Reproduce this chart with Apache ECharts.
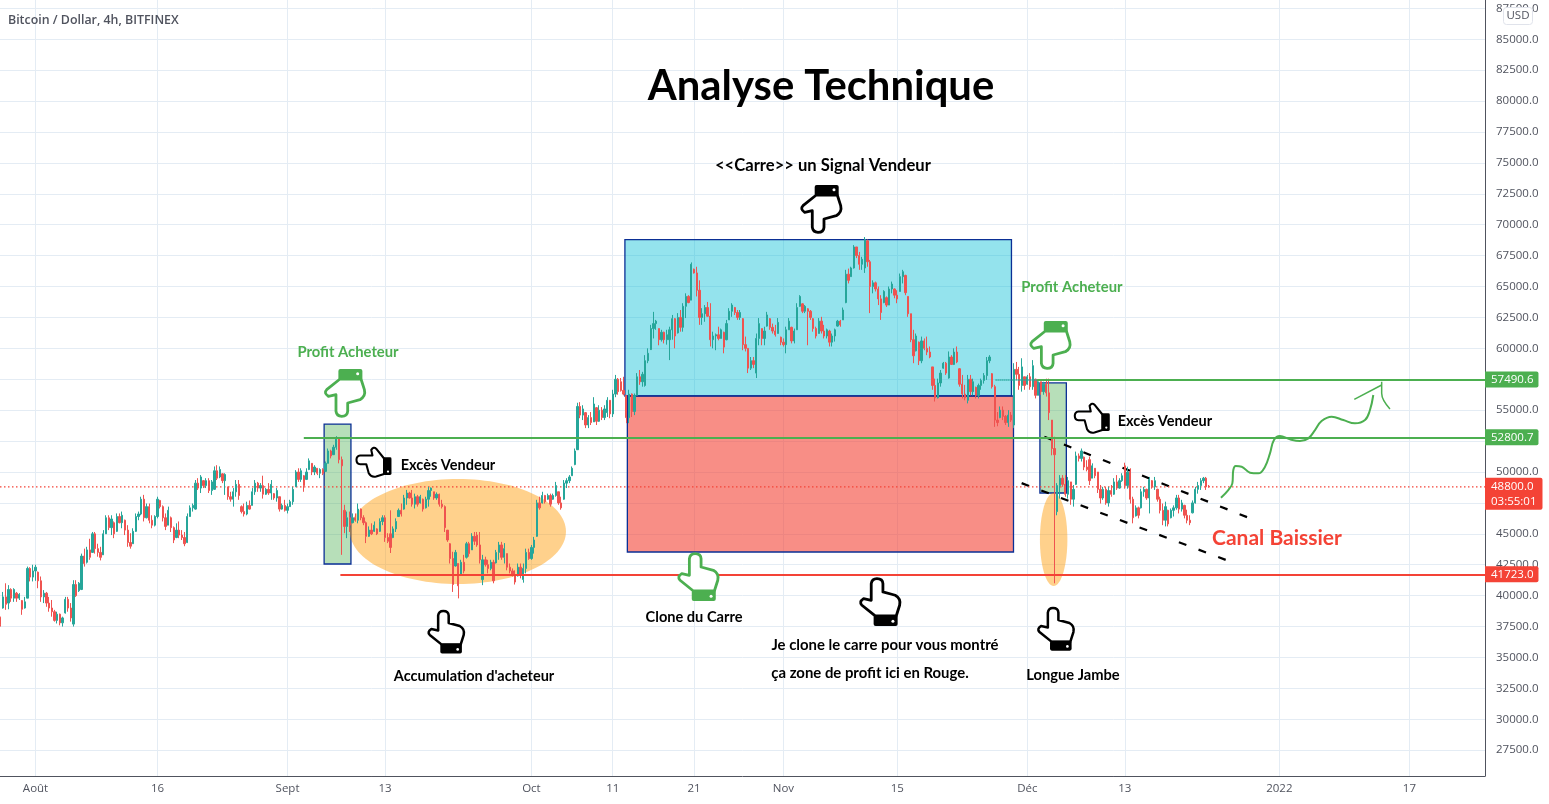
<!DOCTYPE html>
<html>
<head>
<meta charset="utf-8">
<title>Bitcoin / Dollar, 4h</title>
<script src="https://cdn.jsdelivr.net/npm/echarts@6/dist/echarts.min.js"></script>
<style>
  html, body { margin: 0; padding: 0; background: #fff; }
  #chart { width: 1549px; height: 804px; }
</style>
</head>
<body>
<div id="chart"></div>
<script>
// candles, one every 8h: [open, close, low, high]
const candlesJul = [
  [38250,37700,37500,38300],[39000,39900,38950,40300],[39900,39300,38850,41000],[39400,40500,38900,40850],[40500,39800,39500,40600],
  [39800,40500,39500,40600],[40200,39800,39500,40300],[39800,40100,39650,40200],[39600,38900,38450,39650],[39000,39500,38950,39900],
  [39800,42200,39800,42350],[42200,41500,41150,42300],[41500,42000,41150,42500]
];
const candlesAug = [
  [42000,42300,41200,42500],[41900,41200,40600,41950],[41200,39900,39500,41550],[39900,40200,39400,40450],[40200,39400,39100,40300],
  [39400,39000,38700,39900],[39000,38700,38300,39650],[38700,38000,37900,38850],[38000,38500,37750,38700],[38500,37800,37600,38550],
  [37800,38200,37500,38300],[38600,39700,38550,39900],[39700,39000,38700,39900],[39000,38200,37900,39400],[37700,40900,37500,41250],
  [40900,40000,39900,41250],[40400,41000,40300,41100],[40500,43200,40450,43400],[43200,42600,42350,43800],[42700,43700,42600,43950],
  [43700,43100,42900,44600],[43500,45000,43450,45150],[45000,43800,43400,45150],[43800,43500,43150,44200],[43500,43100,42850,43950],
  [43300,45000,43300,45300],[45000,46300,45000,46500],[46300,45500,45300,46500],[45500,46200,44900,46500],[45900,45000,44650,46000],
  [45200,46400,45150,46650],[46400,45900,45850,46650],[45900,46500,45450,46800],[46100,45300,44900,46150],[45300,44300,43950,45700],
  [44300,44000,43800,45050],[44200,45200,44200,45450],[45200,46400,45150,46650],[46400,46600,46100,46800],[46600,47800,46500,48000],
  [47800,46300,46000,48150],[46300,47200,46250,47450],[47200,46100,45850,47450],[46100,45700,45450,46500],[45700,46400,45600,46500],
  [46400,47800,46250,48000],[47700,47200,47050,47750],[47200,46300,46000,47300],[46300,45600,45300,46650],[45700,46900,45700,47200],
  [46300,45500,45150,46400],[45500,44500,44250,45600],[44700,45300,44650,45850],[45300,44900,44650,46000],[44900,44700,44500,45300],
  [44700,44200,44000,45150],[44300,46400,44250,46650],[46400,47100,46400,47300],[47100,47300,46800,47450],[47000,49100,46950,49350],
  [49100,48700,48550,49500],[48700,49600,48300,49750],[49300,48900,48700,49350],[48900,49300,48700,49500],[49300,48500,48300,49500],
  [48500,49200,48150,49350],[48600,50100,48550,50450],[50100,49500,49350,50550],[49600,50200,49500,50450],[49850,49300,49100,49900],
  [49300,49800,48150,49900],[48800,48000,47750,48800],[48000,47800,47600,48400],[47800,48400,47200,48700],[48400,49000,48000,49350],
  [49000,48100,47750,49350],[47200,46800,46650,47300],[46800,46600,46400,47450],[46600,47300,46500,47600],[47300,47000,46950,47700],
  [47300,48400,47300,48700],[48400,49100,48150,49350],[49100,48700,48400,49200],[48700,48900,48400,49100],[48900,48200,47850,49700],
  [48200,48600,48150,48700],[48600,48300,48150,49100],[48300,49000,47750,49350],[48250,47900,47750,48300],[47900,48500,47600,48700],
  [48000,47000,46800,48000],[47000,47300,46950,47450],[47300,46900,46800,47750]
];
const candlesSep = [
  [46900,47200,46650,47450],[47200,47600,47200,47750],[47600,48600,47350,48800],[48800,50000,48800,50150],[50000,49400,49200,50300],
  [49400,50100,49200,50300],[49700,48900,48400,49750],[49400,50000,49350,50300],[50200,50900,50150,51100],[50700,50000,49750,50700],
  [50000,50400,49750,50550],[50300,49900,49750,50300],[49900,50200,49500,50300],[50200,49900,49750,50300],[50050,50700,50050,50850],
  [50700,51700,50700,51900],[51700,51300,51100,51800],[51400,52000,51400,52200],[52000,52700,51800,52900],[52700,51000,50700,52750],
  [51000,50500,43300,51250],[46900,45600,45050,47350],[45600,46300,44650,46800],[46300,45700,45150,46800],[45900,46300,45850,46650],
  [46300,46100,45980,46650],[46100,47000,45850,47450],[47000,46300,46100,47050],[46300,45900,45700,46500],[45900,44800,44250,46000],
  [44800,45300,44750,45600],[45300,45000,44900,45850],[45200,45700,45150,46000],[45400,45000,44900,45450],[45200,46000,45150,46250],
  [46000,46300,45700,46500],[46300,44700,44350,46500],[44700,44400,44250,45050],[45000,43900,43450,46900],[44700,45400,44650,45600],
  [45400,46000,45150,46250],[46400,46900,46400,47050],[46900,46600,46400,47450],[47000,47900,46950,48150],[47900,48300,47350,48550],
  [48300,47900,47850,48400],[47900,47400,47200,48550],[47400,48000,47050,48250],[48000,47400,47200,48150],[47500,48000,47450,48150],
  [47800,47000,46800,47850],[47100,47800,47050,48000],[47800,48500,47200,48800],[48500,48700,48000,48750],[48400,47900,47750,48400],
  [47900,48200,47750,48350],[48200,47400,47200,48250],[47400,47200,47050,47750],[47200,45500,45150,47300],[45300,44500,44350,45300],
  [44200,43000,42600,44250],[43000,40900,40300,43550],[42400,43500,42350,43700],[42600,40800,39780,42600],[41700,42700,41650,42900],
  [42700,42000,41800,43300],[43100,44200,43000,44350],[44200,43400,43150,44350],[43700,44800,43700,45050],[44800,44400,44100,45150],
  [44900,44100,43950,45150],[44100,42900,42600,45150],[41300,42900,40850,43300],[42900,42500,42350,43150],[42500,42200,41800,42900],
  [42200,42700,42050,42900],[42700,41200,41000,42900],[42650,43500,42600,43700],[43500,44100,42900,44350],[44100,43100,42900,44350],
  [43100,43800,42600,44250],[43400,42300,42050,43400],[42300,42000,41800,42600],[42000,41700,41550,42200],[41700,41100,40900,42050],
  [41600,42300,41550,42600],[42300,41700,41400,42600],[41300,42200,41050,42600],[42200,43500,41800,43800],[43500,43000,42900,43800]
];
const candlesOct = [
  [43000,43900,42900,44100],[43900,44500,43400,44750],[44800,47500,44750,47750],[47500,47100,46950,48000],[47500,48100,47450,48400],
  [48100,47600,47450,48150],[47800,48100,47750,48250],[48100,47400,47200,48250],[47800,48100,47750,48250],[48100,48900,48000,49200],
  [48400,47500,47350,48400],[47500,47100,46950,48000],[47800,49100,47750,49350],[49100,49300,48700,49500],[49300,49600,49100,49750],
  [49700,50300,49700,50450],[50600,51700,50550,51900],[51800,55300,51780,55600],[55300,54600,54350,55650],[54600,55100,54200,55400],
  [54800,53800,53550,54850],[53800,54400,53550,54600],[54400,54000,53800,54850],[54050,55500,54050,56050],[55200,54100,53800,55250],
  [54100,55000,54050,55400],[55000,54400,54200,55250],[54400,55100,54200,55400],[54800,55800,54450,56050],[55800,54700,54350,55800],
  [54700,56300,54450,56650],[56300,57500,56050,57850],[57500,56500,56250,57600],[57300,56600,56500,57600],[56600,56300,56200,57700],
  [56200,54400,53950,56200],[54400,56300,53950,56650],[56300,54900,54450,56350],[54900,56200,54600,56350],[56200,57700,56200,58000],
  [57700,57300,57050,58250],[57300,57900,56900,58100],[57000,59000,56900,59450],[59000,59600,58800,60000],[59900,61600,60000,61900],
  [61600,62000,60800,62950],[62000,62200,61500,62300],[61600,60700,60250,61600],[60700,61300,60550,61500],[61300,60700,60400,61350],
  [60700,61100,60300,61500],[60700,61500,59050,61750],[61500,62400,60700,62700],[62400,61000,60000,62450],[61250,62500,61200,62850],
  [62500,61700,61350,63100],[61700,63400,61350,63650],[63400,64200,62450,64450],[64200,63700,63650,64300],[63900,66800,63900,66950],
  [66400,66100,66050,66450],[66100,64700,64200,66600],[64700,62500,61900,65500],[62500,62800,61900,63250],[62800,63300,62150,63500],
  [63300,62600,62550,63750],[62600,60700,60150,63650],[60700,61000,60000,61350],[61000,61100,59850,61200],[61100,60800,60650,61750],
  [60800,61500,60800,61600],[61300,60100,59600,61350],[60700,62000,60650,62300],[62300,63000,62300,63250],[63000,63500,62550,63650],
  [63300,62900,62700,63350],[62900,62500,62300,63100],[62500,62900,62300,63100],[62400,60300,59850,62450],[60300,60000,59750,60950],
  [60000,58400,58000,60000],[58400,59000,58250,59300],[59000,58700,58400,59300],[58000,60800,57600,61200],[60800,62000,60250,62450],
  [61600,60800,60250,61600],[60800,61400,60250,61750],[61800,62700,61750,62950],[62400,61700,61500,62450],[61700,61400,61200,62000],
  [61400,61100,60950,61900],[61200,62100,61200,62450],[60900,60500,60250,60950]
];
const candlesNov = [
  [60500,60300,60150,60800],[60300,61500,59600,61750],[61500,62200,61500,62450],[61700,60600,60400,61750],[60600,61400,60400,61600],
  [61500,63300,61500,63650],[63400,64200,63350,64300],[63600,63000,62850,63650],[63000,63400,62850,63500],[63200,63000,60250,63250],
  [63000,62500,62300,63100],[62400,61600,61350,62450],[61600,61000,60800,61750],[61200,62200,61200,62450],[62200,61400,61200,62550],
  [61400,61000,60800,61900],[61000,61500,60800,61600],[61400,60500,60150,61500],[60500,61000,60150,61200],[61000,61500,60550,61600],
  [61800,62200,61750,62300],[62200,61900,61750,62300],[62300,63100,62300,63300],[63700,66000,63650,66350],[66000,65500,65250,66450],
  [65800,66500,65800,66600],[66500,68200,66450,68350],[68200,67500,67300,68200],[67500,66800,66350,67800],[66800,67200,66350,67400],
  [66500,68800,66100,69000],[68700,67000,66600,68800],[67000,65000,62850,67150],[65000,65300,64450,65500],[65300,64800,64600,65400],
  [64800,64000,63500,65000],[64000,62900,62300,64300],[63700,64600,63650,64700],[64100,63500,63350,64200],[63500,64800,63500,65000],
  [64800,65200,64450,65400],[64800,64300,64050,64850],[64300,64000,63650,64700],[64600,65800,64600,66050],[65800,66200,65250,66350],
  [65900,64500,64300,65950],[64200,62800,62550,64200],[62800,60700,60500,62800],[60700,59400,58800,61500],[59800,61000,59750,61200],
  [60500,59000,58650,60550],[59000,60600,58800,60950],[60600,60000,59850,60800],[60000,59700,59450,60950],[59700,59300,59200,60150],
  [58500,57000,56650,58500],[57000,56000,55700,57550],[56000,57200,55950,57550],[57200,58000,56900,58250],[58400,58800,58350,58900],
  [58800,58000,57850,58900],[57600,59300,57550,59750],[59300,58700,58650,59450],[58700,59700,58650,60000],[59700,58900,58800,60150],
  [58350,57100,56900,58400],[57100,56300,55950,57850],[56300,56000,55800,57050],[55800,57500,55550,57850],[57500,56500,56200,57850],
  [56500,57300,56200,57550],[56850,56200,55950,56900],[56200,57000,55950,57150],[57000,57400,56650,57550],[57400,57800,57150,58000],
  [57800,59000,57450,59300],[59000,59300,58800,59450],[57950,56900,56750,58000],[56900,54200,53650,57050],[54200,54000,53700,54850],
  [54400,55000,54350,55300],[55000,54500,54200,55300],[54500,54000,53800,54600],[54000,54600,53650,55000],[54600,54200,54050,54850],
  [53800,58300,53550,58800],[58300,57900,57450,58900],[57900,57000,56650,58500],[57000,58500,56500,59200],[57700,57000,56650,57700]
];
const candlesDec = [
  [57100,57700,57050,57850],[57700,56900,56650,58000],[56900,58600,56650,59050],[57500,56200,55950,57550],[56200,57300,56200,57450],
  [57300,56500,56250,57300],[56500,57100,56250,57300],[57100,56400,56100,57550],[56400,54800,54200,57550],[54200,51900,51350,54200],
  [51900,51400,41000,52850],[46800,48900,46500,49100],[48900,49500,47850,49750],[49500,49000,48800,49750],[49000,48200,48000,49750],
  [48200,49300,47850,49600],[49200,47800,47350,49200],[47800,48600,47200,48950],[49000,51300,48950,51650],[51300,51100,50850,51500],
  [51100,51700,50850,51900],[51200,50400,50150,51250],[50400,50200,50050,50950],[51000,49300,48950,51250],[49500,50500,49500,50700],
  [50300,49700,49500,50300],[50000,48600,48300,50000],[48600,47900,47450,48950],[47900,48600,47750,48800],[48600,47500,47350,48800],
  [47500,48500,47200,48800],[48500,48200,48000,48950],[48200,49200,48150,49500],[49200,48700,48550,49750],[48700,49300,48650,49500],
  [49300,49700,49200,49900],[50500,48900,48650,50750],[48900,50000,48650,50430],[50000,47800,47450,50300],[47800,46300,45850,48000],
  [46450,47100,46400,47300],[47100,46500,46250,47200],[47100,48400,47050,48650],[48400,48600,48000,48800],[48600,47900,47750,48650],
  [47900,49400,46650,49600],[49300,48800,48650,49350],[48800,49300,48550,49600],[48600,47800,47600,48650],[47800,46900,46650,48000],
  [46900,46100,45700,47450],[46100,47200,45600,47600],[46900,45800,45600,46950],[46300,46900,46250,47050],[46900,47100,46400,47300],
  [47100,47900,46950,48150],[47900,47000,46650,48150],[47000,47500,46800,47750],[47300,46500,46250,47350],[46500,46100,45850,46950],
  [46100,45900,45700,46500],[46700,47500,46650,47700],[47500,48600,47450,48800],[48600,48900,48250,49200],[48900,49300,48550,49500],
  [49300,49500,49100,49600],[49500,48800,48550,49600],[48850,48800,48750,48950]
];

// axes: x is counted in days from 1 Aug 2021
const xTickDays = [0, 15, 31, 43, 61, 71, 81, 92, 106, 122, 134, 153, 169];
const xTickLabels = ['Août', '16', 'Sept', '13', 'Oct', '11', '21', 'Nov', '15', 'Déc', '13', '2022', '17'];
const yGridPrices = [27500, 30000, 32500, 35000, 37500, 40000, 42500, 45000, 47500, 50000, 52500, 55000, 57500, 60000,
  62500, 65000, 67500, 70000, 72500, 75000, 77500, 80000, 82500, 85000, 87500];
const yLabelPrices = [27500, 30000, 32500, 35000, 37500, 40000, 42500, 45000, 50000, 55000, 60000,
  62500, 65000, 67500, 70000, 72500, 75000, 77500, 80000, 82500, 85000, 87500];

// horizontal levels: start day, end of the axis, price tag
const levelPrices = [57490.6, 52800.7, 41723.0];
const levelStartDays = [123.2, 33.0, 37.5];
const levelColors = ['#4caf50', '#4caf50', '#f44336'];
const lastPrice = 48800.0;
const countdown = '03:55:01';
const dottedLevelDays = [118.1, 123.2];

// boxes: day from, day to, price from, price to
const boxDayFrom = [35.5, 72.5, 72.8, 123.55];
const boxDayTo = [38.8, 120.05, 120.3, 126.8];
const boxPriceLow = [42560, 56146, 43530, 48300];
const boxPriceHigh = [53880, 68800, 56146, 57200];
const boxColors = ['rgba(76,175,80,0.4)', 'rgba(0,188,212,0.42)', 'rgba(244,67,54,0.6)', 'rgba(76,175,80,0.4)'];

const ellipseDayFrom = [38.68, 123.55];
const ellipseDayTo = [65.25, 126.93];
const ellipsePriceLow = [40943, 40781];
const ellipsePriceHigh = [49434, 48302];

// descending channel
const channelDays = [[124.1, 149.8], [121.3, 147.8]];
const channelPrices = [[52850, 46150], [49100, 42550]];

// hand drawn arrow
const arrowDays = [145.82, 146.72, 147.22, 147.34, 147.63, 148.37, 149.39, 150.42, 151.24, 151.85, 152.34, 153.08,
  154.31, 155.54, 156.57, 157.39, 158.2, 159.44, 160.87, 162.3, 163.54, 164.15, 164.56];
const arrowPrices = [47923, 48543, 49082, 50160, 50484, 50430, 49944, 49890, 50430, 51508, 52587, 52910,
  52640, 52506, 52721, 53395, 54123, 54474, 54204, 53935, 54204, 55013, 56226];
const arrowHeadDays = [[162.22, 165.59], [165.59, 165.59, 166.61]];
const arrowHeadPrices = [[55876, 57035], [57305, 56361, 55094]];

// notes
const noteTexts = ['Profit Acheteur', 'Profit Acheteur', 'Excès Vendeur', 'Excès Vendeur', '<<Carre>> un Signal Vendeur',
  "Accumulation d'acheteur", 'Clone du Carre', 'Je clone le carre pour vous montré', 'ça zone de profit ici en Rouge.',
  'Longue Jambe', 'Canal Baissier'];
const noteDays = [38.44, 127.49, 50.74, 138.93, 96.86, 53.94, 81.0, 104.49, 102.65, 127.61, 152.71];
const notePrices = [59704, 64960, 50566, 54124, 74746, 33503, 38274, 36010, 33745, 33584, 44663];
const noteColors = ['#4caf50', '#4caf50', '#000', '#000', '#000', '#000', '#000', '#000', '#000', '#000', '#f44336'];
const noteSizes = [14.8, 14.8, 14.5, 14.5, 16.6, 14.5, 14.6, 14.9, 14.9, 14.7, 21];

// pointing hands
const handDays = [38.03, 41.6, 96.62, 124.8, 129.96, 81.5, 50.49, 103.87, 125.49];
const handPrices = [56390, 50810, 71270, 60270, 54370, 41510, 37060, 39490, 37300];
const handDirections = ['down', 'left', 'down', 'down', 'left', 'up', 'up', 'up', 'up'];
const handColors = ['#4caf50', '#000', '#000', '#4caf50', '#000', '#4caf50', '#000', '#000', '#000'];
const handScales = [1, 0.74, 1, 1, 0.74, 1, 0.9, 1, 0.9];

const FONT = 'Lato';
const AXIS_FONT = '"Open Sans"';
const TEXT_GREY = '#50535e';
const GRID_COLOR = '#e4ecf4';
const UP = '#26a69a';
const DOWN = '#ef5350';
const BOX_BORDER = '#0b2f95';

const HAND_PALM = 'M-4.7,-14 L-18,-3.3 Q-21.3,0 -16.3,3.3 L-8.7,1.7 L-8.7,18.3 Q-8,23.3 -3,23.3 Q2.7,23.3 3,18.3 L3,10 L15.3,6.7 Q21.3,3.3 19.7,-3.3 L16.3,-14 Z';

const CANDLE_START_DAY = -4.3333;
const candles = [].concat(candlesJul, candlesAug, candlesSep, candlesOct, candlesNov, candlesDec);
const candleData = candles.map((c, i) => [CANDLE_START_DAY + i / 3, c[0], c[1], c[2], c[3]]);

const xLabelByDay = {};
xTickDays.forEach((d, i) => { xLabelByDay[d] = xTickLabels[i]; });

const xMin = -4.37;
const xMax = 178.3;

function levelLine(price, startDay, color, tagText) {
  return [
    {
      coord: [startDay, price],
      lineStyle: { color: color, width: 2, type: 'solid' },
      label: {
        show: true,
        position: 'end',
        formatter: tagText,
        color: '#fff',
        backgroundColor: color,
        fontFamily: AXIS_FONT,
        fontSize: 11.5,
        padding: [2, 5, 2, 6],
        borderRadius: [0, 2, 2, 0],
        distance: 0
      }
    },
    { coord: [xMax, price] }
  ];
}

const levelData = levelPrices.map((p, i) => levelLine(p, levelStartDays[i], levelColors[i], p.toFixed(1)));

levelData.push([
  {
    coord: [dottedLevelDays[0], levelPrices[0]],
    lineStyle: { color: UP, width: 2, type: [1, 1] },
    label: { show: false }
  },
  { coord: [dottedLevelDays[1], levelPrices[0]] }
]);

const boxData = boxDayFrom.map((d, i) => [
  {
    coord: [d, boxPriceLow[i]],
    itemStyle: { color: boxColors[i], borderColor: BOX_BORDER, borderWidth: 1.3 }
  },
  { coord: [boxDayTo[i], boxPriceHigh[i]] }
]);

function renderEllipse(params, api) {
  const a = api.coord([api.value(0), api.value(1)]);
  const b = api.coord([api.value(2), api.value(3)]);
  return {
    type: 'ellipse',
    shape: {
      cx: (a[0] + b[0]) / 2,
      cy: (a[1] + b[1]) / 2,
      rx: Math.abs(b[0] - a[0]) / 2,
      ry: Math.abs(b[1] - a[1]) / 2
    },
    style: { fill: 'rgba(255,152,0,0.45)' }
  };
}

function renderHand(params, api) {
  const i = api.value(2);
  const p = api.coord([api.value(0), api.value(1)]);
  const s = handScales[i];
  const dir = handDirections[i];
  const color = handColors[i];
  return {
    type: 'group',
    x: p[0],
    y: p[1],
    rotation: dir === 'left' ? -Math.PI / 2 : 0,
    scaleX: s,
    scaleY: dir === 'up' ? -s : s,
    children: [
      {
        type: 'path',
        shape: { pathData: HAND_PALM },
        style: { fill: '#fff', stroke: color, lineWidth: 2.8, lineJoin: 'round' }
      },
      {
        type: 'rect',
        shape: { x: -6.3, y: -24, width: 24, height: 11, r: 2 },
        style: { fill: color }
      },
      {
        type: 'circle',
        shape: { cx: 13, cy: -19.3, r: 1.5 },
        style: { fill: '#fff' }
      }
    ]
  };
}

const chart = echarts.init(document.getElementById('chart'), null, { renderer: 'canvas' });

chart.setOption({
  animation: false,
  backgroundColor: '#fff',
  title: [
    {
      text: 'Bitcoin / Dollar, 4h, BITFINEX',
      left: 3,
      top: 9,
      textStyle: { color: TEXT_GREY, fontFamily: AXIS_FONT, fontSize: 12.4, fontWeight: 600 }
    },
    {
      text: 'Analyse Technique',
      left: 816,
      top: 61,
      textAlign: 'center',
      textStyle: { color: '#000', fontFamily: FONT, fontSize: 41.8, fontWeight: 'bold' }
    }
  ],
  grid: { left: 0, right: 64, top: 0, bottom: 28 },
  xAxis: {
    type: 'value',
    min: xMin,
    max: xMax,
    axisLine: { show: true, onZero: false, lineStyle: { color: TEXT_GREY, width: 1 } },
    axisTick: { show: false, customValues: xTickDays },
    splitLine: { show: true, lineStyle: { color: GRID_COLOR, width: 1 } },
    axisLabel: {
      customValues: xTickDays,
      formatter: (v) => xLabelByDay[v] || '',
      color: TEXT_GREY,
      fontFamily: AXIS_FONT,
      fontSize: 11.5,
      margin: 7,
      hideOverlap: false
    }
  },
  yAxis: {
    type: 'value',
    position: 'right',
    min: 25415,
    max: 88172,
    axisLine: { show: true, onZero: false, lineStyle: { color: TEXT_GREY, width: 1 } },
    axisTick: { show: false, customValues: yGridPrices },
    splitLine: { show: true, lineStyle: { color: GRID_COLOR, width: 1 } },
    axisLabel: {
      customValues: yLabelPrices,
      formatter: (v) => v.toFixed(1),
      color: TEXT_GREY,
      fontFamily: AXIS_FONT,
      fontSize: 11.5,
      margin: 11
    }
  },
  graphic: [
    {
      type: 'rect',
      z: 100,
      shape: { x: 1503.5, y: 7.5, width: 29, height: 17, r: 3 },
      style: { fill: '#fff', stroke: '#e0e3eb', lineWidth: 1 }
    },
    {
      type: 'text',
      z: 101,
      style: {
        x: 1518,
        y: 16,
        text: 'USD',
        align: 'center',
        verticalAlign: 'middle',
        fill: TEXT_GREY,
        font: '11.5px "Open Sans"'
      }
    }
  ],
  series: [
    // channel first, the boxes sit on top of it
    {
      type: 'line',
      z: 1,
      silent: true,
      symbol: 'none',
      data: channelDays[0].map((d, i) => [d, channelPrices[0][i]]),
      lineStyle: { color: '#000', width: 2.2, type: [8, 13] }
    },
    {
      type: 'line',
      z: 1,
      silent: true,
      symbol: 'none',
      data: channelDays[1].map((d, i) => [d, channelPrices[1][i]]),
      lineStyle: { color: '#000', width: 2.2, type: [8, 13] }
    },
    {
      type: 'custom',
      z: 2,
      silent: true,
      renderItem: renderEllipse,
      data: ellipseDayFrom.map((d, i) => [d, ellipsePriceLow[i], ellipseDayTo[i], ellipsePriceHigh[i]])
    },
    {
      type: 'line',
      z: 2,
      silent: true,
      data: [],
      markArea: { silent: true, data: boxData }
    },
    // current price: dotted line with the two line tag
    {
      type: 'line',
      z: 3,
      silent: true,
      symbol: 'none',
      data: [[xMin, lastPrice], [xMax, lastPrice]],
      lineStyle: { color: '#f44336', width: 1.2, type: [1.5, 2.5] },
      endLabel: {
        show: true,
        formatter: lastPrice.toFixed(1) + '\n' + countdown,
        color: '#fff',
        backgroundColor: '#f44336',
        fontFamily: AXIS_FONT,
        fontSize: 11.5,
        lineHeight: 15,
        padding: [1, 6, 1, 6],
        borderRadius: [0, 2, 2, 0],
        distance: 0,
        offset: [0, 7]
      }
    },
    {
      type: 'candlestick',
      z: 3,
      silent: true,
      barWidth: 1.8,
      data: candleData,
      encode: { x: 0, y: [1, 2, 3, 4] },
      itemStyle: { color: UP, color0: DOWN, borderColor: UP, borderColor0: DOWN, borderWidth: 1 },
      markLine: { silent: true, symbol: 'none', animation: false, data: levelData }
    },
    {
      type: 'line',
      z: 4,
      silent: true,
      smooth: 0.4,
      symbol: 'none',
      data: arrowDays.map((d, i) => [d, arrowPrices[i]]),
      lineStyle: { color: '#4caf50', width: 2 }
    },
    {
      type: 'line',
      z: 4,
      silent: true,
      symbol: 'none',
      data: arrowHeadDays[0].map((d, i) => [d, arrowHeadPrices[0][i]]),
      lineStyle: { color: '#4caf50', width: 1.5 }
    },
    {
      type: 'line',
      z: 4,
      silent: true,
      smooth: 0.4,
      symbol: 'none',
      data: arrowHeadDays[1].map((d, i) => [d, arrowHeadPrices[1][i]]),
      lineStyle: { color: '#4caf50', width: 1.5 }
    },
    {
      type: 'custom',
      z: 5,
      silent: true,
      clip: false,
      renderItem: renderHand,
      data: handDays.map((d, i) => [d, handPrices[i], i])
    },
    {
      type: 'scatter',
      z: 6,
      silent: true,
      symbolSize: 0,
      itemStyle: { opacity: 1 },
      data: noteTexts.map((t, i) => ({
        value: [noteDays[i], notePrices[i]],
        label: {
          show: true,
          position: 'inside',
          formatter: t,
          color: noteColors[i],
          fontFamily: FONT,
          fontWeight: 'bold',
          fontSize: noteSizes[i]
        }
      }))
    }
  ]
});
</script>
</body>
</html>
